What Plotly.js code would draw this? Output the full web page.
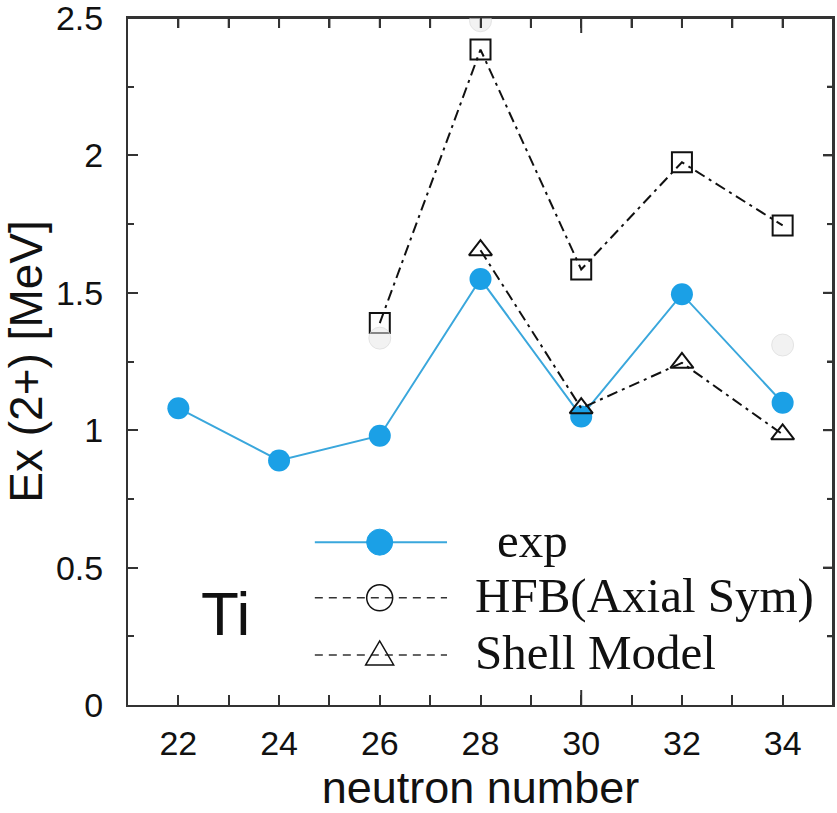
<!DOCTYPE html>
<html>
<head>
<meta charset="utf-8">
<script src="https://cdn.plot.ly/plotly-3.0.1.min.js"></script>
<style>html,body{margin:0;padding:0;background:#fff;overflow:hidden;}#chart{width:837px;height:813px;}</style>
</head>
<body>
<div id="chart"></div>
<script>
// neutron numbers
const neutronNumbers = [22, 24, 26, 28, 30, 32, 34];
// experimental Ex(2+) [MeV]
const expValues = [1.08, 0.89, 0.98, 1.55, 1.05, 1.495, 1.10];
// square-marker curve (dash-dot)
const squareN = [26, 28, 30, 32, 34];
const squareValues = [1.39, 2.385, 1.585, 1.975, 1.745];
// shell model
const shellN = [28, 30, 32, 34];
const shellValues = [1.655, 1.08, 1.245, 0.985];
// HFB (Axial Sym) faint circles
const hfbN = [26, 28, 34];
const hfbValues = [1.335, 2.49, 1.31];
// tick positions
const xTickVals = [22, 24, 26, 28, 30, 32, 34];
const yTickVals = [0, 0.5, 1, 1.5, 2, 2.5];
// legend labels
const legendLabels = ['exp', 'HFB(Axial Sym)', 'Shell Model'];

// axis ranges and plot geometry
const xRange = [21, 35];
const yRange = [0, 2.5];
const W = 837, H = 813;
const M = {l: 128, r: 4, t: 18, b: 108};
const xPerPx = (xRange[1] - xRange[0]) / (W - M.l - M.r);
const yPerPx = (yRange[1] - yRange[0]) / (H - M.t - M.b);

const blue = '#1ba0e6';
const blueLine = '#3aa7dc';
const dashDot = '11px,5px,3px,5px';
const axisCol = '#333';

// legend geometry (paper fractions of plot area)
const legX0 = 0.265, legX1 = 0.4525, legXm = 0.357;
const legY = [0.237, 0.156, 0.0728];
const legTextX = [0.52, 0.49, 0.49];

// top and right frame with mirrored inside ticks, derived from the axis settings
const topX = [], topY = [], rightX = [], rightY = [];
for (let v = xRange[0] + 1; v < xRange[1]; v += 1) {
  const len = (v === 30 ? 15 : 10) * yPerPx;
  topX.push(v, v, null); topY.push(yRange[1], yRange[1] - len, null);
}
for (let k = 1; k * 0.25 < yRange[1]; k++) {
  const v = k * 0.25;
  const len = (k % 2 === 0 ? 10 : 6) * xPerPx;
  rightX.push(xRange[1], xRange[1] - len, null); rightY.push(v, v, null);
}

const frameTraces = [
  {x: [xRange[0], xRange[1], xRange[1]], y: [yRange[1], yRange[1], yRange[0]], mode: 'lines', cliponaxis: false,
   hoverinfo: 'skip', line: {color: axisCol, width: 2}},
  {x: topX, y: topY, mode: 'lines', cliponaxis: false, hoverinfo: 'skip', line: {color: axisCol, width: 2}},
  {x: rightX, y: rightY, mode: 'lines', cliponaxis: false, hoverinfo: 'skip', line: {color: axisCol, width: 2}}
];

const dataTraces = [
  {x: neutronNumbers, y: expValues, mode: 'lines+markers',
   line: {color: blueLine, width: 2}, marker: {color: blue, size: 22, symbol: 'circle'}},
  {x: squareN, y: squareValues, mode: 'lines+markers',
   line: {color: '#111', width: 2, dash: dashDot},
   marker: {symbol: 'square-open', size: 20, color: '#111', line: {width: 2, color: '#111'}}},
  {x: shellN, y: shellValues, mode: 'lines+markers',
   line: {color: '#111', width: 2, dash: dashDot},
   marker: {symbol: 'triangle-up-open', size: 20, color: '#111', line: {width: 2, color: '#111'}}},
  {x: hfbN, y: hfbValues, mode: 'markers',
   marker: {symbol: 'circle', size: 22, color: 'rgba(232,232,232,0.55)', line: {width: 1, color: 'rgba(215,215,215,0.6)'}}}
];

const sansFam = 'Liberation Sans, Arial, sans-serif';
const serifFam = 'Liberation Serif, Times New Roman, serif';

const layout = {
  width: W, height: H,
  margin: M,
  showlegend: false,
  xaxis: {
    range: xRange, tickmode: 'array', tickvals: xTickVals,
    ticks: 'inside', ticklen: 10, tickwidth: 2, tickcolor: axisCol,
    minor: {dtick: 1, ticks: 'inside', ticklen: 10, tickwidth: 2, tickcolor: axisCol},
    showline: true, linecolor: axisCol, linewidth: 2, mirror: 'allticks', showgrid: false, zeroline: false,
    tickfont: {family: sansFam, size: 34, color: '#111'}, ticklabelstandoff: 7, ticklabeloverflow: 'allow',
    title: {text: 'neutron number', font: {family: sansFam, size: 45, color: '#111'}, standoff: 18}
  },
  yaxis: {
    range: yRange, tickmode: 'array', tickvals: yTickVals,
    ticks: 'inside', ticklen: 10, tickwidth: 2, tickcolor: axisCol,
    minor: {dtick: 0.25, ticks: 'inside', ticklen: 6, tickwidth: 2, tickcolor: axisCol},
    showline: true, linecolor: axisCol, linewidth: 2, mirror: 'allticks', showgrid: false, zeroline: false,
    tickfont: {family: sansFam, size: 34, color: '#111'}, ticklabelstandoff: 16, ticklabeloverflow: 'allow',
    title: {text: 'Ex (2+) [MeV]', font: {family: sansFam, size: 46, color: '#111'}, standoff: 8}
  },
  shapes: [
    {type: 'line', xref: 'x', x0: 30, x1: 30, yref: 'paper', ysizemode: 'pixel', yanchor: 0, y0: 0, y1: 15, line: {color: axisCol, width: 2}},
    {type: 'line', xref: 'paper', yref: 'paper', x0: legX0, x1: legX1, y0: legY[0], y1: legY[0], line: {color: blueLine, width: 2}},
    {type: 'circle', xref: 'paper', yref: 'paper', xsizemode: 'pixel', ysizemode: 'pixel', xanchor: legXm, yanchor: legY[0],
     x0: -13, x1: 13, y0: -13, y1: 13, fillcolor: blue, line: {color: blue, width: 1}},
    {type: 'line', xref: 'paper', yref: 'paper', x0: legX0, x1: legX1, y0: legY[1], y1: legY[1], line: {color: axisCol, width: 1.5, dash: '8px,6px'}},
    {type: 'circle', xref: 'paper', yref: 'paper', xsizemode: 'pixel', ysizemode: 'pixel', xanchor: legXm, yanchor: legY[1],
     x0: -13, x1: 13, y0: -13, y1: 13, fillcolor: 'rgba(0,0,0,0)', line: {color: '#111', width: 1.5}},
    {type: 'line', xref: 'paper', yref: 'paper', x0: legX0, x1: legX1, y0: legY[2], y1: legY[2], line: {color: axisCol, width: 1.5, dash: '8px,6px'}},
    {type: 'path', xref: 'paper', yref: 'paper', xsizemode: 'pixel', ysizemode: 'pixel', xanchor: legXm, yanchor: legY[2],
     path: 'M-14,-10 L0,14 L14,-10 Z', fillcolor: 'rgba(0,0,0,0)', line: {color: '#111', width: 1.5}}
  ],
  annotations: [
    {text: 'Ti', xref: 'paper', yref: 'paper', x: 0.139, y: 0.133, xanchor: 'center', yanchor: 'middle', showarrow: false,
     font: {family: sansFam, size: 62, color: '#111'}},
    {text: legendLabels[0], xref: 'paper', yref: 'paper', x: legTextX[0], y: legY[0] + 0.003, xanchor: 'left', yanchor: 'middle', showarrow: false,
     font: {family: serifFam, size: 49, color: '#111'}},
    {text: legendLabels[1], xref: 'paper', yref: 'paper', x: legTextX[1], y: legY[1] + 0.003, xanchor: 'left', yanchor: 'middle', showarrow: false,
     font: {family: serifFam, size: 49, color: '#111'}},
    {text: legendLabels[2], xref: 'paper', yref: 'paper', x: legTextX[2], y: legY[2] + 0.003, xanchor: 'left', yanchor: 'middle', showarrow: false,
     font: {family: serifFam, size: 49, color: '#111'}}
  ]
};

Plotly.newPlot('chart', frameTraces.concat(dataTraces), layout, {staticPlot: true, displayModeBar: false});
</script>
</body>
</html>
